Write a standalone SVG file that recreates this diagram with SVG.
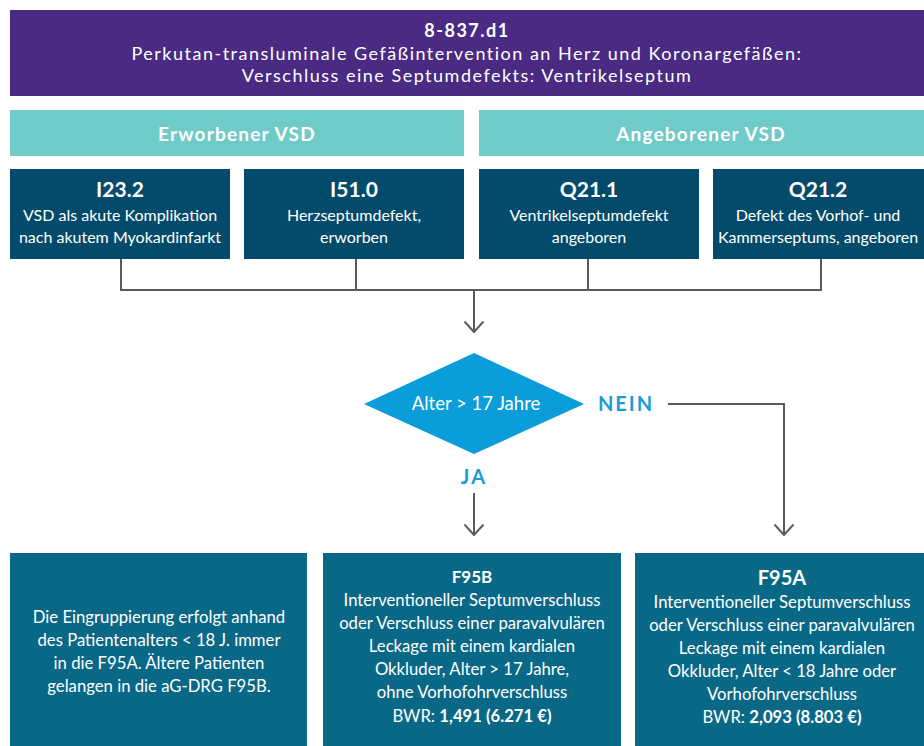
<svg xmlns="http://www.w3.org/2000/svg" width="924" height="746" viewBox="0 0 924 746">
<defs>
<style>
text{font-family:Lato,"Liberation Sans",sans-serif;fill:#fff;text-anchor:middle}
.hd{font-size:18px;letter-spacing:1.5px}
.hb{font-weight:bold}
.band{font-size:19px;font-weight:bold;letter-spacing:1.2px}
.code{font-size:21px;font-weight:bold}
.t{font-size:16px}
.bt{font-size:16.7px}
.lbl{font-size:20px;font-weight:bold;fill:#1a9cd8;letter-spacing:2px}
.conn{fill:none;stroke:#5a5a5a;stroke-width:2}
</style>
<marker id="arr" viewBox="0 0 12 20" refX="11" refY="10" markerWidth="12" markerHeight="20" markerUnits="userSpaceOnUse" orient="auto">
<path d="M0.5,0.5 L11,10 L0.5,19.5" fill="none" stroke="#5a5a5a" stroke-width="2"/>
</marker>
</defs>
<rect width="924" height="746" fill="#fff"/>

<g id="header">
<rect x="10" y="10" width="914" height="86" fill="#4a2a83"/>
<text class="hd hb" x="467" y="37">8-837.d1</text>
<text class="hd" x="467" y="60">Perkutan-transluminale Gefäßintervention an Herz und Koronargefäßen:</text>
<text class="hd" x="467" y="82">Verschluss eine Septumdefekts: Ventrikelseptum</text>
</g>

<g id="band-erworben">
<rect x="10" y="110" width="454" height="46" fill="#6fcbc8"/>
<text class="band" x="237" y="141">Erworbener VSD</text>
</g>
<g id="band-angeboren">
<rect x="479" y="110" width="445" height="46" fill="#6fcbc8"/>
<text class="band" x="701" y="141">Angeborener VSD</text>
</g>

<g id="i232">
<rect x="10" y="169" width="220" height="90" fill="#044b6b"/>
<text class="code" x="120" y="197">I23.2</text>
<text class="t" x="120" y="221">VSD als akute Komplikation</text>
<text class="t" x="120" y="243">nach akutem Myokardinfarkt</text>
</g>
<g id="i510">
<rect x="244" y="169" width="220" height="90" fill="#044b6b"/>
<text class="code" x="354" y="197">I51.0</text>
<text class="t" x="354" y="221">Herzseptumdefekt,</text>
<text class="t" x="354" y="243">erworben</text>
</g>
<g id="q211">
<rect x="479" y="169" width="220" height="90" fill="#044b6b"/>
<text class="code" x="589" y="197">Q21.1</text>
<text class="t" x="589" y="221">Ventrikelseptumdefekt</text>
<text class="t" x="589" y="243">angeboren</text>
</g>
<g id="q212">
<rect x="713" y="169" width="211" height="90" fill="#044b6b"/>
<text class="code" x="818" y="197">Q21.2</text>
<text class="t" x="818" y="221">Defekt des Vorhof- und</text>
<text class="t" x="818" y="243">Kammerseptums, angeboren</text>
</g>

<g id="connectors">
<path class="conn" d="M121,259 V290 M356,259 V290 M588,259 V290 M821,259 V290 M120,290 H822"/>
<path class="conn" d="M474,290 V332" marker-end="url(#arr)"/>
<path class="conn" d="M474,493 V535" marker-end="url(#arr)"/>
<path class="conn" d="M668,404 H784 V535" marker-end="url(#arr)"/>
</g>

<g id="decision">
<polygon points="364,404 474,353 584,404 474,454" fill="#0a9dd9"/>
<text x="476" y="410" style="font-size:18.5px">Alter &gt; 17 Jahre</text>
</g>
<g id="label-nein"><text class="lbl" x="626" y="411">NEIN</text></g>
<g id="label-ja"><text class="lbl" x="474" y="484">JA</text></g>

<g id="note">
<rect x="10" y="553" width="297" height="193" fill="#0a6887"/>
<text class="bt" x="159" y="623">Die Eingruppierung erfolgt anhand</text>
<text class="bt" x="159" y="646">des Patientenalters &lt; 18 J. immer</text>
<text class="bt" x="159" y="669">in die F95A. Ältere Patienten</text>
<text class="bt" x="159" y="692">gelangen in die aG-DRG F95B.</text>
</g>
<g id="f95b">
<rect x="323" y="553" width="298" height="193" fill="#0a6887"/>
<text class="bt hb" x="472" y="583" style="font-size:17px">F95B</text>
<text class="bt" x="472" y="606">Interventioneller Septumverschluss</text>
<text class="bt" x="472" y="629">oder Verschluss einer paravalvulären</text>
<text class="bt" x="472" y="652">Leckage mit einem kardialen</text>
<text class="bt" x="472" y="675">Okkluder, Alter &gt; 17 Jahre,</text>
<text class="bt" x="472" y="698">ohne Vorhofohrverschluss</text>
<text class="bt" x="472" y="722">BWR: <tspan font-weight="bold">1,491 (6.271 €)</tspan></text>
</g>
<g id="f95a">
<rect x="635" y="553" width="289" height="193" fill="#0a6887"/>
<text class="bt hb" x="782" y="585" style="font-size:20px">F95A</text>
<text class="bt" x="782" y="608">Interventioneller Septumverschluss</text>
<text class="bt" x="782" y="631">oder Verschluss einer paravalvulären</text>
<text class="bt" x="782" y="654">Leckage mit einem kardialen</text>
<text class="bt" x="782" y="677">Okkluder, Alter &lt; 18 Jahre oder</text>
<text class="bt" x="782" y="700">Vorhofohrverschluss</text>
<text class="bt" x="782" y="723">BWR: <tspan font-weight="bold">2,093 (8.803 €)</tspan></text>
</g>
</svg>
